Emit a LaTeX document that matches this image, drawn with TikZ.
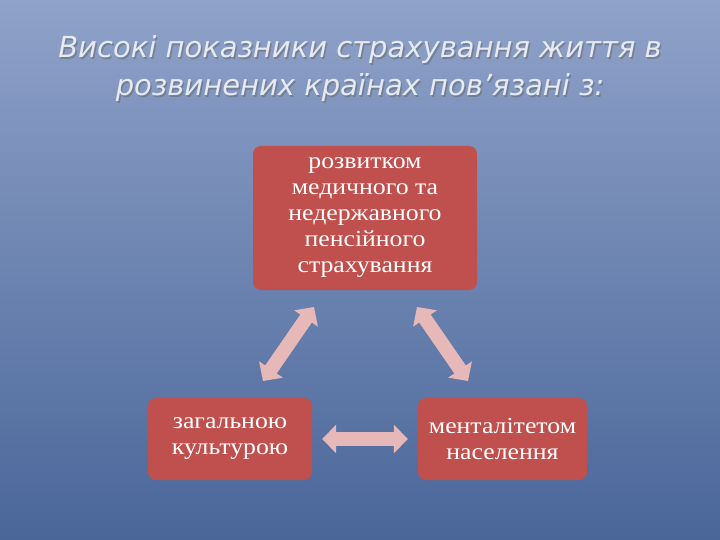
\documentclass[tikz,border=0pt]{standalone}
\usepackage{fontspec}
\setmainfont{Liberation Serif}[FakeStretch=1.12]
\newfontfamily\titlefont{DejaVu Sans}
\usetikzlibrary{arrows.meta}
\definecolor{bgtop}{HTML}{8FA2C9}
\definecolor{bgbot}{HTML}{4A6699}
\definecolor{boxred}{HTML}{C0504D}
\definecolor{arr}{HTML}{E6B9B8}
\definecolor{ttl}{HTML}{E6EAF2}
\tikzset{
  box/.style={fill=boxred, rounded corners=8pt, text=white, align=center, font=\fontsize{23}{26}\selectfont, inner sep=0pt},
  link/.style={arr, line width=14pt, {Triangle[width=28pt,length=14pt]}-{Triangle[width=28pt,length=14pt]}, shorten <=10pt, shorten >=10pt},
  ttlstyle/.style={font=\titlefont\itshape\fontsize{29}{38}\selectfont, align=center}
}
\begin{document}
\begin{tikzpicture}[x=1pt,y=-1pt]
\shade[top color=bgtop, bottom color=bgbot] (0,0) rectangle (720,540);
\useasboundingbox (0,0) rectangle (720,540);
\node[ttlstyle, text=black!60, opacity=0.5] at (361.5,70.5) {Високі показники страхування життя в\\розвинених країнах пов’язані з:};
\node[ttlstyle, text=ttl] (title) at (360,69) {Високі показники страхування життя в\\розвинених країнах пов’язані з:};
\node[box, minimum width=224pt, minimum height=144pt] (top) at (365,218) {розвитком\\медичного та\\недержавного\\пенсійного\\страхування};
\node[box, minimum width=164pt, minimum height=82pt] (left) at (230,439) {загальною\\культурою};
\node[box, minimum width=169pt, minimum height=82pt] (right) at (502.5,439) {менталітетом\\населення};
\coordinate (a1) at (263,381); \coordinate (a2) at (314,307);
\coordinate (b1) at (417,307); \coordinate (b2) at (468,381);
\draw[link, shorten <=0pt, shorten >=0pt] (a1) -- (a2);
\draw[link, shorten <=0pt, shorten >=0pt] (b1) -- (b2);
\draw[link] (left.east) -- (right.east -| right.west);
\end{tikzpicture}
\end{document}
